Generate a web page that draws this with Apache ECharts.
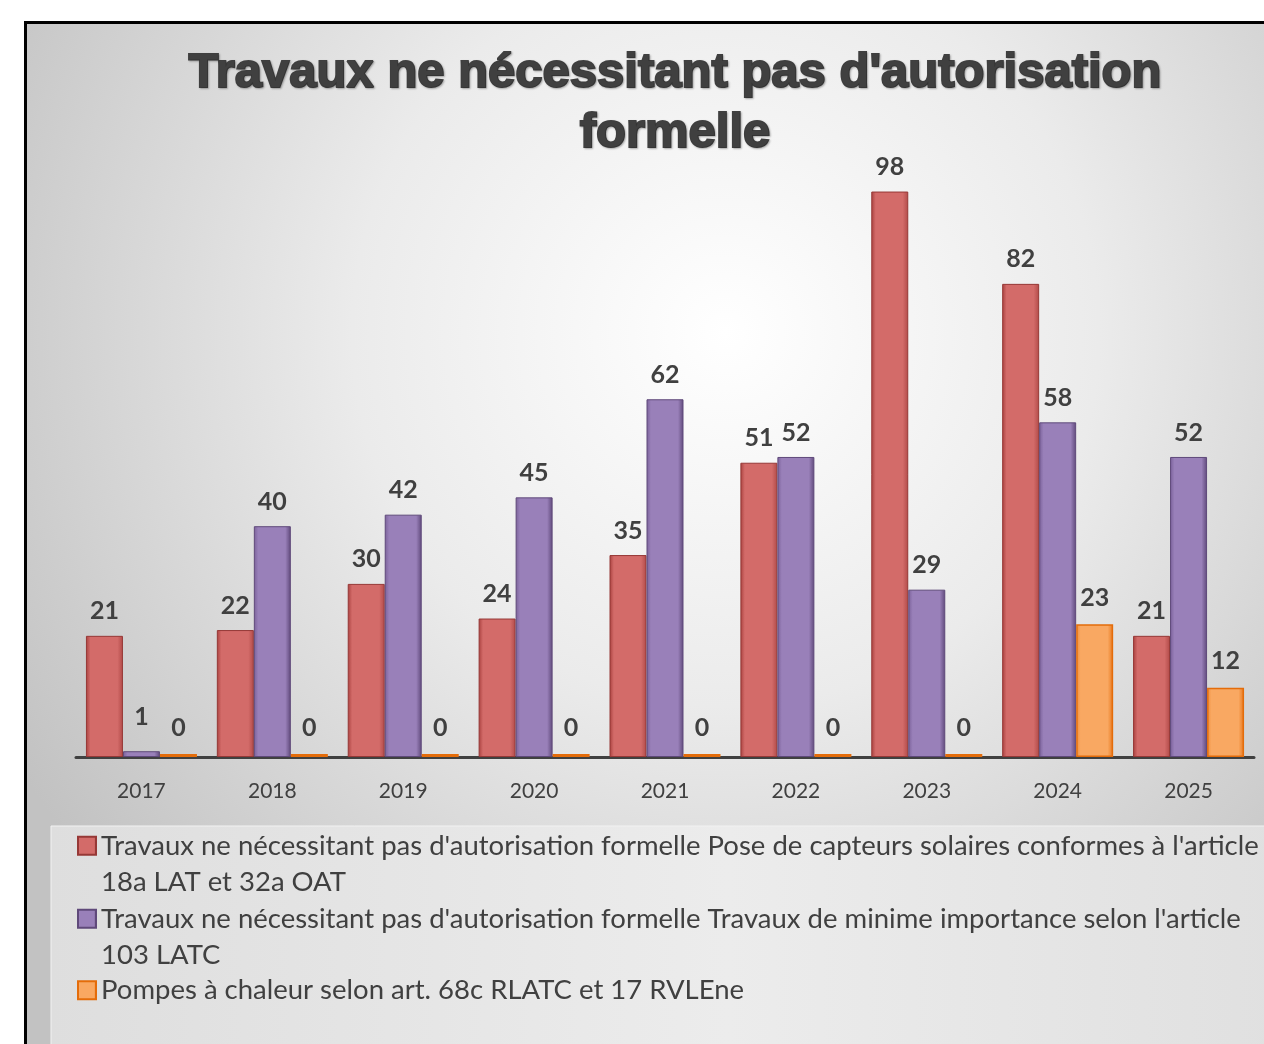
<!DOCTYPE html>
<html lang="fr">
<head>
    <meta charset="utf-8">
    <title>Travaux ne nécessitant pas d'autorisation formelle</title>
    <script src="https://cdn.jsdelivr.net/npm/echarts@6/dist/echarts.min.js"></script>
    <style>
        html, body { margin: 0; padding: 0; background: #fff; }
    </style>
</head>
<body>
<div id="main" style="width:1264px;height:1044px;"></div>

<script type="text/javascript">
    // données
    var annees = ['2017', '2018', '2019', '2020', '2021', '2022', '2023', '2024', '2025'];
    var capteurs = [21, 22, 30, 24, 35, 51, 98, 82, 21];
    var minimes = [1, 40, 42, 45, 62, 52, 29, 58, 52];
    var pompes = [0, 0, 0, 0, 0, 0, 0, 23, 12];

    var noms = [
        "Travaux ne nécessitant pas d'autorisation formelle Pose de capteurs solaires conformes à l'article 18a LAT et 32a OAT",
        "Travaux ne nécessitant pas d'autorisation formelle Travaux de minime importance selon l'article 103 LATC",
        "Pompes à chaleur selon art. 68c RLATC et 17 RVLEne"
    ];
    // texte de légende, coupé comme sur l'original
    var lignes = [
        ["Travaux ne nécessitant pas d'autorisation formelle Pose de capteurs solaires conformes à l'article", "18a LAT et 32a OAT"],
        ["Travaux ne nécessitant pas d'autorisation formelle Travaux de minime importance selon l'article", "103 LATC"],
        ["Pompes à chaleur selon art. 68c RLATC et 17 RVLEne"]
    ];

    var texte = '#404040';
    var police = 'Lato';

    function degrade(a, b, c) {
        return new echarts.graphic.LinearGradient(0, 0, 1, 0, [
            {offset: 0, color: a},
            {offset: 0.12, color: b},
            {offset: 0.85, color: b},
            {offset: 1, color: c}
        ]);
    }

    var etiquette = {
        show: true,
        position: 'top',
        distance: 12,
        color: texte,
        fontFamily: police,
        fontWeight: 'bold',
        fontSize: 25
    };

    // légendes : une par série, pour garder le carré sur la première ligne
    function legende(i, top) {
        return {
            data: [noms[i]],
            left: 72,
            top: top,
            icon: 'rect',
            itemWidth: 18,
            itemHeight: 18,
            selectedMode: false,
            formatter: function () {
                return lignes[i].length > 1 ? ' \n' + lignes[i].join('\n') : lignes[i][0];
            },
            textStyle: {
                color: texte,
                fontFamily: police,
                fontSize: 27.5,
                lineHeight: 36.5
            }
        };
    }

    var chart = echarts.init(document.getElementById('main'));
    chart.setOption({
        animation: false,
        graphic: [
            {
                type: 'rect',
                z: -10,
                silent: true,
                shape: {x: 25.5, y: 22.5, width: 1250, height: 1035},
                style: {
                    fill: new echarts.graphic.RadialGradient(0.56, 0.3, 0.8, [
                        {offset: 0, color: '#ffffff'},
                        {offset: 0.45, color: '#ebebeb'},
                        {offset: 1, color: '#c2c2c2'}
                    ]),
                    stroke: '#000',
                    lineWidth: 3
                }
            },
            {
                type: 'rect',
                z: -9,
                silent: true,
                shape: {x: 51, y: 826, width: 1230, height: 230},
                style: {
                    fill: new echarts.graphic.LinearGradient(0, 0, 1, 0, [
                        {offset: 0, color: '#dedede'},
                        {offset: 0.55, color: '#ececec'},
                        {offset: 1, color: '#e0e0e0'}
                    ]),
                    stroke: '#f2f2f2',
                    lineWidth: 1
                }
            }
        ],
        title: {
            text: "Travaux ne nécessitant pas d'autorisation\nformelle",
            left: 670,
            textAlign: 'center',
            top: 38,
            textStyle: {
                color: texte,
                fontFamily: 'Liberation Sans',
                fontWeight: 'bold',
                fontSize: 49,
                lineHeight: 60,
                textBorderColor: texte,
                textBorderWidth: 2,
                textShadowColor: 'rgba(0,0,0,0.25)',
                textShadowBlur: 2,
                textShadowOffsetX: 1,
                textShadowOffsetY: 1
            }
        },
        legend: [legende(0, 786), legende(1, 859), legende(2, 967)],
        grid: {left: 76, right: 10, top: 180, bottom: 287},
        xAxis: {
            type: 'category',
            data: annees,
            axisTick: {show: false},
            axisLine: {lineStyle: {color: '#404040', width: 3}},
            axisLabel: {color: texte, fontFamily: police, fontSize: 21, margin: 24}
        },
        yAxis: {
            type: 'value',
            min: 0,
            max: 100,
            show: false,
            splitLine: {show: false}
        },
        series: [
            {
                name: noms[0],
                type: 'bar',
                data: capteurs,
                barWidth: 37,
                barGap: '0%',
                itemStyle: {
                    color: degrade('#a8403e', '#d36b69', '#b14a48'),
                    borderColor: '#963836',
                    borderWidth: 1
                },
                label: etiquette
            },
            {
                name: noms[1],
                type: 'bar',
                data: minimes.map(function (v) {
                    return v === 1 ? {value: v, label: {distance: 22}} : v;
                }),
                barWidth: 37,
                barMinHeight: 4,
                itemStyle: {
                    color: degrade('#7a6199', '#9980b9', '#5f497a'),
                    borderColor: '#5f497a',
                    borderWidth: 1
                },
                label: etiquette
            },
            {
                name: noms[2],
                type: 'bar',
                data: pompes,
                barWidth: 37,
                barMinHeight: 3,
                itemStyle: {
                    color: degrade('#f0903c', '#f9a862', '#e8781c'),
                    borderColor: '#e46c0a',
                    borderWidth: 1.5
                },
                label: Object.assign({}, etiquette, {distance: 14})
            }
        ]
    });
</script>
</body>
</html>
